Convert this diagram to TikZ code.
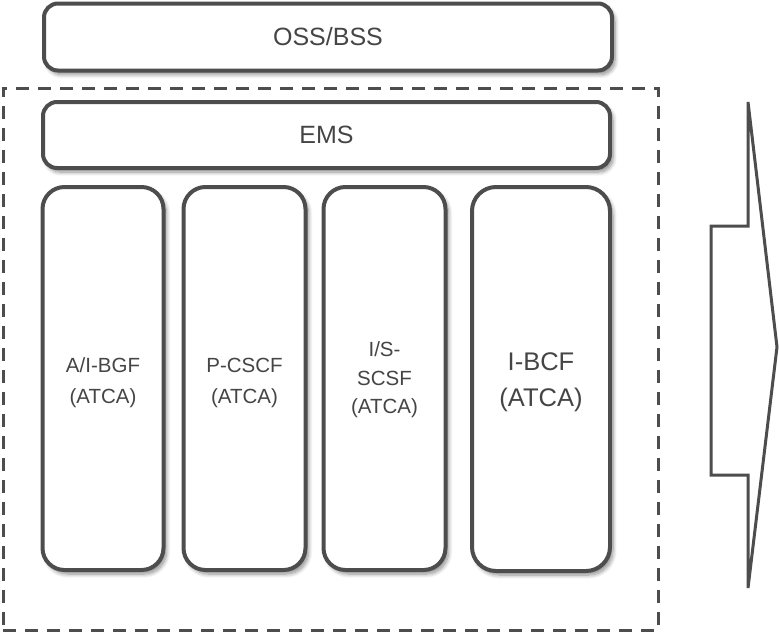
\documentclass[tikz,border=0pt]{standalone}
\usepackage{fontspec}
\setmainfont{Liberation Sans}
\usetikzlibrary{shadows.blur}
\definecolor{linegray}{HTML}{4D4D4D}
\definecolor{textgray}{HTML}{454545}
\newcommand{\lowtext}[2]{\raisebox{-#1}[\height][\depth]{\begin{tabular}{@{}c@{}}#2\end{tabular}}}
\tikzset{
  box/.style={draw=linegray, line width=4pt, fill=white, rounded corners=#1,
    text=textgray, align=center, inner sep=0pt,
    blur shadow={shadow xshift=3pt, shadow yshift=-4pt, shadow blur steps=8, shadow blur radius=4pt, shadow opacity=45}},
  box/.default=14pt,
  frame/.style={draw=linegray, line width=3pt, dash pattern=on 13pt off 9pt, inner sep=0pt},
  bigarrow/.style={draw=linegray, line width=3pt, line join=miter, fill=white},
}
\begin{document}
\begin{tikzpicture}[x=1pt,y=-1pt]
\useasboundingbox (0,0) rectangle (779,633);
% dashed frame
\node[frame, minimum width=655pt, minimum height=542pt] (frame) at (330.5,359) {};
% OSS/BSS
\node[box=14pt, minimum width=568pt, minimum height=67pt, font=\fontsize{25}{30}\selectfont] (oss) at (328,37) {OSS/BSS};
% EMS
\node[box=14pt, minimum width=567pt, minimum height=66pt, font=\fontsize{25}{30}\selectfont] (ems) at (326.5,135) {EMS};
% columns
\node[box=22pt, minimum width=121pt, minimum height=383pt, font=\fontsize{20.5}{31}\selectfont] (bgf) at (103,378.5) {\lowtext{3pt}{A/I-BGF\\(ATCA)}};
\node[box=22pt, minimum width=122pt, minimum height=383pt, font=\fontsize{20.5}{31}\selectfont] (pcscf) at (244.5,378.5) {\lowtext{3pt}{P-CSCF\\(ATCA)}};
\node[box=22pt, minimum width=122pt, minimum height=383pt, font=\fontsize{20.5}{28.5}\selectfont] (scsf) at (384.5,378.5) {\lowtext{1pt}{I/S-\\SCSF\\(ATCA)}};
\node[box=24pt, minimum width=138pt, minimum height=384pt, font=\fontsize{25.5}{36}\selectfont] (ibcf) at (541,379) {\lowtext{2pt}{I-BCF\\(ATCA)}};
% big arrow
\draw[bigarrow] (748,102) -- (748,226) -- (711,226) -- (711,475) -- (748,475) -- (748,588) -- (777,347) -- cycle;
\end{tikzpicture}
\end{document}
